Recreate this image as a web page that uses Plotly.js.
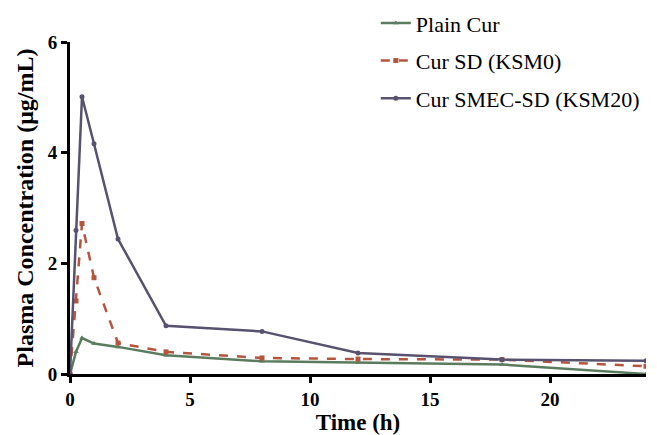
<!DOCTYPE html>
<html><head><meta charset="utf-8">
<script src="https://cdn.plot.ly/plotly-3.0.1.min.js"></script>
<style>html,body{margin:0;padding:0;background:#fff}</style>
</head><body><div id="chart" style="width:657px;height:435px"></div>
<script>
const time = [0, 0.25, 0.5, 1, 2, 4, 8, 12, 18, 24];
const plainCur = [0, 0.40, 0.65, 0.55, 0.49, 0.34, 0.23, 0.21, 0.17, 0.0];
const curSD = [0, 1.32, 2.72, 1.74, 0.56, 0.40, 0.29, 0.27, 0.26, 0.14];
const curSMEC = [0, 2.60, 5.01, 4.16, 2.44, 0.87, 0.77, 0.38, 0.26, 0.24];
const names = ['Plain Cur', 'Cur SD (KSM0)', 'Cur SMEC-SD (KSM20)'];

const traces = [
  {x: time, y: plainCur, name: names[0], legendgroup: 'a', mode: 'lines+markers',
   line: {color: '#5b7b5e', width: 2.5}, marker: {symbol: 'triangle-up', size: 5, color: '#5b7b5e'}},
  {x: time, y: curSD, name: names[1], legendgroup: 'b', mode: 'lines+markers',
   line: {color: '#b5553f', width: 2.5, dash: 'dash'}, marker: {symbol: 'square', size: 5, color: '#b5553f'}},
  {x: time, y: curSMEC, name: names[2], legendgroup: 'c', mode: 'lines+markers',
   line: {color: '#585270', width: 2.5}, marker: {symbol: 'circle', size: 5, color: '#585270'}}
];
const tf = {family: 'Liberation Serif', size: 19, color: '#000', weight: 'bold'};
const layout = {
  width: 657, height: 435,
  margin: {l: 70, r: 11, t: 42, b: 61, autoexpand: false},
  paper_bgcolor: '#fff', plot_bgcolor: '#fff',
  showlegend: true,
  legend: {xref: 'container', yref: 'container', x: 0.572, y: 0.995, xanchor: 'left', yanchor: 'top',
    bgcolor: 'rgba(0,0,0,0)', itemwidth: 30,
    font: {family: 'Liberation Serif', size: 22, color: '#000'}, tracegroupgap: 6},
  xaxis: {range: [0, 24], tickvals: [0, 5, 10, 15, 20], showgrid: false, zeroline: false,
    showline: true, linecolor: '#000', linewidth: 3, ticks: 'outside', ticklen: 6, tickwidth: 3, tickcolor: '#000',
    tickfont: tf, title: {text: 'Time (h)', font: {family: 'Liberation Serif', size: 23, color: '#000', weight: 'bold'}, standoff: 6}},
  yaxis: {range: [0, 6], tickvals: [0, 2, 4, 6], showgrid: false, zeroline: false,
    showline: true, linecolor: '#000', linewidth: 3, ticks: 'outside', ticklen: 6, tickwidth: 3, tickcolor: '#000',
    tickfont: tf, title: {text: 'Plasma Concentration (μg/mL)', font: {family: 'Liberation Serif', size: 24, color: '#000', weight: 'bold'}, standoff: 8}}
};
Plotly.newPlot('chart', traces, layout, {displayModeBar: false, staticPlot: true});
</script></body></html>
